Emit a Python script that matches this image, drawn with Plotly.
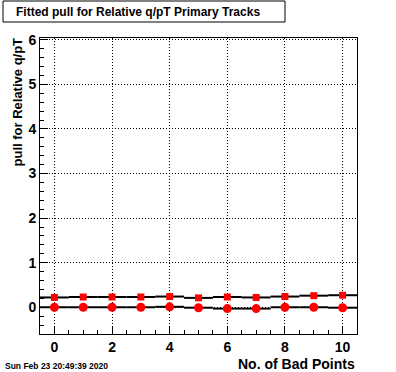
import plotly.graph_objects as go

bad_points = [0, 1, 2, 3, 4, 5, 6, 7, 8, 9, 10]
pull_upper = [0.22, 0.23, 0.23, 0.23, 0.24, 0.21, 0.23, 0.22, 0.24, 0.26, 0.27]
pull_lower = [0.0, 0.0, 0.0, 0.0, 0.01, -0.01, -0.03, -0.03, 0.0, 0.0, -0.01]
bin_half_width = [0.5] * len(bad_points)

x_ticks = [0, 2, 4, 6, 8, 10]
y_ticks = [0, 1, 2, 3, 4, 5, 6]

W, H = 396, 372
L, R, T, B = 40, 357, 38, 334


def px_x(p):
    return (p - L) / (R - L)


def px_y(p):
    return (B - p) / (B - T)


FONT = "Liberation Sans"

fig = go.Figure()
fig.add_trace(go.Scatter(
    x=bad_points, y=pull_upper, mode="markers",
    marker=dict(symbol="square", size=7, color="#ff0000", line=dict(width=0)),
    error_x=dict(type="data", array=bin_half_width, symmetric=True, color="black",
                 thickness=2, width=0),
    showlegend=False, hoverinfo="skip",
))
fig.add_trace(go.Scatter(
    x=bad_points, y=pull_lower, mode="markers",
    marker=dict(symbol="circle", size=9, color="#ff0000", line=dict(width=0)),
    error_x=dict(type="data", array=bin_half_width, symmetric=True, color="black",
                 thickness=2, width=0),
    showlegend=False, hoverinfo="skip",
))

axis_common = dict(
    showline=True, linecolor="black", linewidth=1, mirror=True,
    ticks="inside", tickcolor="black", tickwidth=1,
    showgrid=True, gridcolor="black", gridwidth=1, griddash="1px,2px",
    zeroline=False,
    tickfont=dict(family=FONT, size=14, color="black", weight="bold"),
)

fig.update_xaxes(
    range=[-0.5, 10.5], tickvals=x_ticks, ticklen=8,
    minor=dict(dtick=0.5, ticks="inside", ticklen=4, tickcolor="black", showgrid=False),
    **axis_common,
)
fig.update_yaxes(
    range=[-0.6, 6.04], tickvals=y_ticks, ticklen=8,
    minor=dict(dtick=0.2, ticks="inside", ticklen=4, tickcolor="black", showgrid=False),
    **axis_common,
)

fig.add_shape(type="rect", xref="paper", yref="paper",
              x0=px_x(3), x1=px_x(285), y0=px_y(22), y1=px_y(1),
              line=dict(color="black", width=1), fillcolor="white", layer="above")

fig.add_annotation(text="Fitted pull for Relative q/pT Primary Tracks",
                   xref="paper", yref="paper", x=px_x(137.5), y=px_y(12),
                   xanchor="center", yanchor="middle", showarrow=False,
                   font=dict(family=FONT, size=12, color="black", weight="bold"))

fig.add_annotation(text="No. of Bad Points",
                   xref="paper", yref="paper", x=px_x(357), y=px_y(364),
                   xanchor="right", yanchor="middle", showarrow=False,
                   font=dict(family=FONT, size=14, color="black", weight="bold"))

fig.add_annotation(text="pull for Relative q/pT", textangle=-90,
                   xref="paper", yref="paper", x=px_x(17), y=px_y(102.5),
                   xanchor="center", yanchor="middle", showarrow=False,
                   font=dict(family=FONT, size=13, color="black", weight="bold"))

fig.add_annotation(text="Sun Feb 23 20:49:39 2020",
                   xref="paper", yref="paper", x=px_x(3), y=px_y(366),
                   xanchor="left", yanchor="middle", showarrow=False,
                   font=dict(family=FONT, size=8.5, color="black", weight="bold"))

fig.update_layout(
    width=W, height=H,
    margin=dict(l=L, r=W - R, t=T, b=H - B, pad=0),
    paper_bgcolor="white", plot_bgcolor="white",
    hovermode=False,
)

fig.write_html("out.html", config={"displayModeBar": False},
               post_script="document.body.style.margin='0';document.body.style.overflow='hidden';")
